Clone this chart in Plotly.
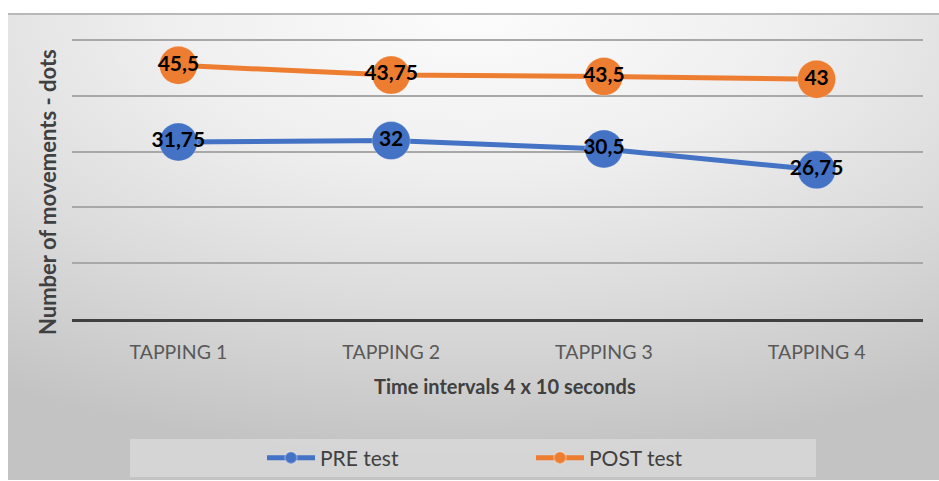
import base64
import plotly.graph_objects as go

categories = ["TAPPING 1", "TAPPING 2", "TAPPING 3", "TAPPING 4"]
pre_test = [31.75, 32, 30.5, 26.75]
post_test = [45.5, 43.75, 43.5, 43]
series_names = ["PRE test", "POST test"]
y_title = "Number of movements - dots"
x_title = "Time intervals 4 x 10 seconds"

W, H = 939, 481
L, R, T, B = 72, 16, 38, 162
pw, ph = W - L - R, H - T - B

def px_x(p):
    return (p - L) / pw

def px_y(p):
    return (H - B - p) / ph

def fmt(v):
    return f"{v:g}".replace(".", ",")

FONT = "Lato, 'Open Sans', sans-serif"

svg = """<svg xmlns='http://www.w3.org/2000/svg' width='931' height='467' viewBox='0 0 931 467' preserveAspectRatio='none'>
<defs><radialGradient id='g' cx='0.5' cy='0' r='0.95' gradientUnits='objectBoundingBox'>
<stop offset='0' stop-color='#fcfcfc'/>
<stop offset='0.35' stop-color='#efefef'/>
<stop offset='0.65' stop-color='#dcdcdc'/>
<stop offset='1' stop-color='#c3c3c3'/>
</radialGradient></defs>
<rect width='931' height='467' fill='url(#g)'/>
</svg>"""
svg_uri = "data:image/svg+xml;base64," + base64.b64encode(svg.encode()).decode()

fig = go.Figure()
for name, vals, col in [(series_names[0], pre_test, "#4472C4"), (series_names[1], post_test, "#ED7D31")]:
    fig.add_trace(go.Scatter(
        x=categories, y=vals, name=name, mode="lines+markers+text",
        line=dict(color=col, width=5),
        marker=dict(color=col, size=38, line=dict(color="rgba(255,255,255,0.25)", width=1)),
        text=[fmt(v) for v in vals], textposition="middle center",
        textfont=dict(family=FONT, size=21, color="#000000", weight="bold"),
        cliponaxis=False,
    ))

fig.update_layout(
    width=W, height=H,
    margin=dict(l=L, r=R, t=T, b=B),
    paper_bgcolor="white", plot_bgcolor="rgba(0,0,0,0)",
    font=dict(family=FONT),
    showlegend=True,
    legend=dict(
        orientation="h", xref="container", yref="container",
        x=262 / W, xanchor="left", y=(H - 458) / H, yanchor="middle",
        bgcolor="rgba(0,0,0,0)", itemsizing="constant",
        entrywidth=206, entrywidthmode="pixels", itemwidth=48,
        font=dict(family=FONT, size=21, color="#404040"),
    ),
    xaxis=dict(
        range=[-0.5, 3.5], showgrid=False, zeroline=False, automargin=False,
        showline=True, linecolor="#404040", linewidth=2.5,
        ticks="", tickfont=dict(family=FONT, size=19.5, color="#595959"),
        ticklabelstandoff=14,
    ),
    yaxis=dict(
        range=[0, 50.4], tickvals=[10, 20, 30, 40, 50], showgrid=True, gridcolor="#a8a8a8", gridwidth=1.6,
        zeroline=False, showticklabels=False, ticks="", automargin=False,
    ),
    images=[dict(
        source=svg_uri, xref="paper", yref="paper",
        x=px_x(8), y=px_y(13), sizex=(W - 8) / pw, sizey=(480 - 13) / ph,
        sizing="stretch", layer="below", xanchor="left", yanchor="top",
    )],
    shapes=[
        dict(type="line", xref="paper", yref="paper", x0=px_x(8), x1=px_x(939),
             y0=px_y(14), y1=px_y(14), line=dict(color="#b8b8b8", width=2)),
        dict(type="rect", xref="paper", yref="paper", x0=px_x(130), x1=px_x(816),
             y0=px_y(439), y1=px_y(477), fillcolor="rgba(255,255,255,0.3)", line=dict(width=0),
             layer="below"),
    ],
    annotations=[
        dict(text=y_title, xref="paper", yref="paper", x=px_x(47), y=px_y(192),
             showarrow=False, textangle=-90, xanchor="center", yanchor="middle",
             font=dict(family=FONT, size=22, color="#404040", weight="bold")),
        dict(text=x_title, xref="paper", yref="paper", x=px_x(505), y=px_y(386),
             showarrow=False, xanchor="center", yanchor="middle",
             font=dict(family=FONT, size=20, color="#404040", weight="bold")),
    ],
)

fig.write_html("out.html", config={"displayModeBar": False},
               post_script="document.body.style.margin='0';document.body.style.overflow='hidden';")
